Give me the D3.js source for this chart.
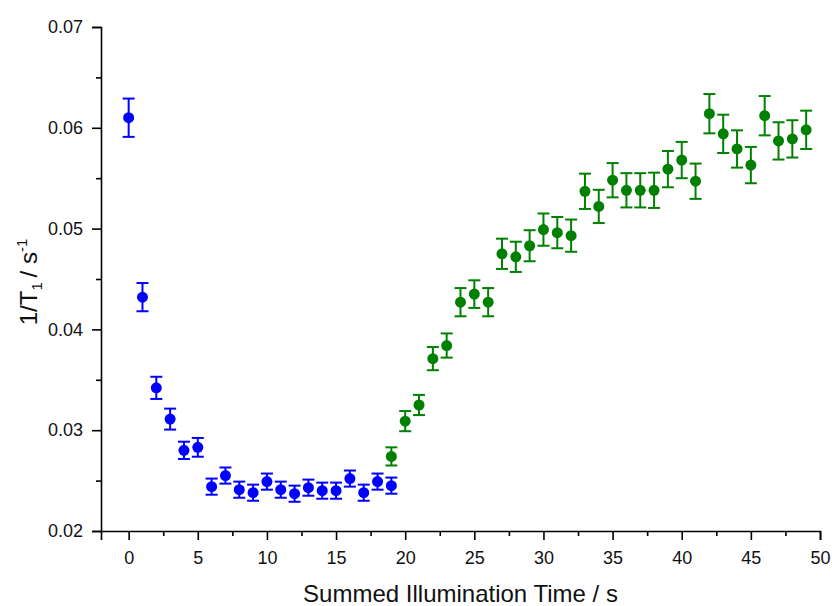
<!DOCTYPE html>
<html>
<head>
<meta charset="utf-8">
<script src="https://cdn.jsdelivr.net/npm/d3@7/dist/d3.min.js"></script>
<style>
  body { margin: 0; background: #fff; }
  svg { display: block; font-family: "Liberation Sans", Arial, sans-serif; }
</style>
</head>
<body>
<svg id="chart" width="832" height="606"></svg>
<script>
// Relaxation rate before illumination steps (blue) and after (green)
const blueTime = [0, 1, 2, 3, 4, 5, 6, 7, 8, 9, 10, 11, 12, 13, 14, 15, 16, 17, 18, 19];
const blueRate = [0.0610, 0.0432, 0.0342, 0.0311, 0.0280, 0.0283, 0.0244, 0.0255, 0.0241, 0.0238,
                  0.0249, 0.0241, 0.0237, 0.0243, 0.0240, 0.0240, 0.0252, 0.0238, 0.0249, 0.0245];
const blueErr  = [0.0019, 0.0014, 0.0011, 0.00104, 0.00086, 0.00093, 0.0008, 0.0008, 0.0008, 0.0008,
                  0.0008, 0.0008, 0.0008, 0.0008, 0.0008, 0.0008, 0.0008, 0.0008, 0.0008, 0.0008];

const greenTime = [19, 20, 21, 22, 23, 24, 25, 26, 27, 28, 29, 30, 31, 32, 33, 34, 35, 36, 37, 38,
                   39, 40, 41, 42, 43, 44, 45, 46, 47, 48, 49];
const greenRate = [0.0274, 0.0309, 0.0325, 0.0371, 0.0384, 0.0427, 0.0435, 0.0427, 0.0475, 0.0472,
                   0.0483, 0.0499, 0.0496, 0.0493, 0.0537, 0.0522, 0.0548, 0.0538, 0.0538, 0.0538,
                   0.0559, 0.0568, 0.0547, 0.0614, 0.0594, 0.0579, 0.0563, 0.0612, 0.0587, 0.0589, 0.0598];
const greenErr  = [0.0009, 0.0010, 0.0010, 0.00115, 0.0012, 0.0014, 0.00137, 0.0014, 0.0015, 0.0015,
                   0.00154, 0.0016, 0.00155, 0.0016, 0.00175, 0.00165, 0.0017, 0.0017, 0.0017, 0.00175,
                   0.0018, 0.0018, 0.00175, 0.00195, 0.0019, 0.00185, 0.0018, 0.00195, 0.00185, 0.00185, 0.0019];

const xMajorTicks = [0, 5, 10, 15, 20, 25, 30, 35, 40, 45, 50];
const xMinorTicks = [2.5, 7.5, 12.5, 17.5, 22.5, 27.5, 32.5, 37.5, 42.5, 47.5];
const yMajorTicks = [0.02, 0.03, 0.04, 0.05, 0.06, 0.07];
const yMinorTicks = [0.025, 0.035, 0.045, 0.055, 0.065];

const svg = d3.select("#chart");
const plot = { left: 101, right: 820, top: 27, bottom: 531 };

const x = d3.scaleLinear().domain([-2, 50]).range([plot.left, plot.right]);
const y = d3.scaleLinear().domain([0.02, 0.07]).range([plot.bottom, plot.top]);

// Axes: major ticks with labels, minor ticks without
const xAxis = d3.axisBottom(x).tickValues(xMajorTicks).tickSize(9).tickPadding(11).tickFormat(d3.format("d"));
const xMinor = d3.axisBottom(x).tickValues(xMinorTicks).tickSize(5).tickFormat("");
const yAxis = d3.axisLeft(y).tickValues(yMajorTicks).tickSize(9).tickPadding(9).tickFormat(d3.format(".2f"));
const yMinor = d3.axisLeft(y).tickValues(yMinorTicks).tickSize(5).tickFormat("");

function styleAxis(g) {
  g.select(".domain").attr("stroke", "#000").attr("stroke-width", 1.6);
  g.selectAll(".tick line").attr("stroke", "#000").attr("stroke-width", 1.6);
  g.selectAll(".tick text").attr("fill", "#111").attr("font-size", 18)
    .attr("font-family", "'Liberation Sans', Arial, sans-serif");
}

const gx = svg.append("g").attr("transform", `translate(0,${plot.bottom})`).call(xAxis).call(styleAxis);
gx.append("g").call(xMinor).call(styleAxis).select(".domain").remove();
const gy = svg.append("g").attr("transform", `translate(${plot.left},0)`).call(yAxis).call(styleAxis);
gy.append("g").call(yMinor).call(styleAxis).select(".domain").remove();

// Series: error bars with caps, then filled markers
function drawSeries(xs, ys, es, color) {
  const data = xs.map((t, i) => ({ t, v: ys[i], e: es[i] }));
  const g = svg.append("g");
  const cap = 6;
  const bars = g.selectAll("g.err").data(data).join("g").attr("class", "err")
    .attr("stroke", color).attr("stroke-width", 2);
  bars.append("line")
    .attr("x1", d => x(d.t)).attr("x2", d => x(d.t))
    .attr("y1", d => y(d.v + d.e)).attr("y2", d => y(d.v - d.e));
  bars.append("line")
    .attr("x1", d => x(d.t) - cap).attr("x2", d => x(d.t) + cap)
    .attr("y1", d => y(d.v + d.e)).attr("y2", d => y(d.v + d.e));
  bars.append("line")
    .attr("x1", d => x(d.t) - cap).attr("x2", d => x(d.t) + cap)
    .attr("y1", d => y(d.v - d.e)).attr("y2", d => y(d.v - d.e));
  g.selectAll("circle").data(data).join("circle")
    .attr("cx", d => x(d.t)).attr("cy", d => y(d.v)).attr("r", 5.5)
    .attr("fill", color);
}

drawSeries(blueTime, blueRate, blueErr, "#0000ff");
drawSeries(greenTime, greenRate, greenErr, "#008000");

// Axis titles
svg.append("text")
  .attr("x", (plot.left + plot.right) / 2).attr("y", 602)
  .attr("text-anchor", "middle").attr("font-size", 24).attr("fill", "#111")
  .text("Summed Illumination Time / s");

const yt = svg.append("text")
  .attr("transform", `translate(37,282) rotate(-90)`)
  .attr("text-anchor", "middle").attr("font-size", 24).attr("fill", "#111");
yt.append("tspan").text("1/T");
yt.append("tspan").attr("font-size", 15).attr("dy", 5).text("1");
yt.append("tspan").attr("dy", -5).text("\u2009/ s");
yt.append("tspan").attr("font-size", 15).attr("dy", -10).text("-1");
</script>
</body>
</html>
